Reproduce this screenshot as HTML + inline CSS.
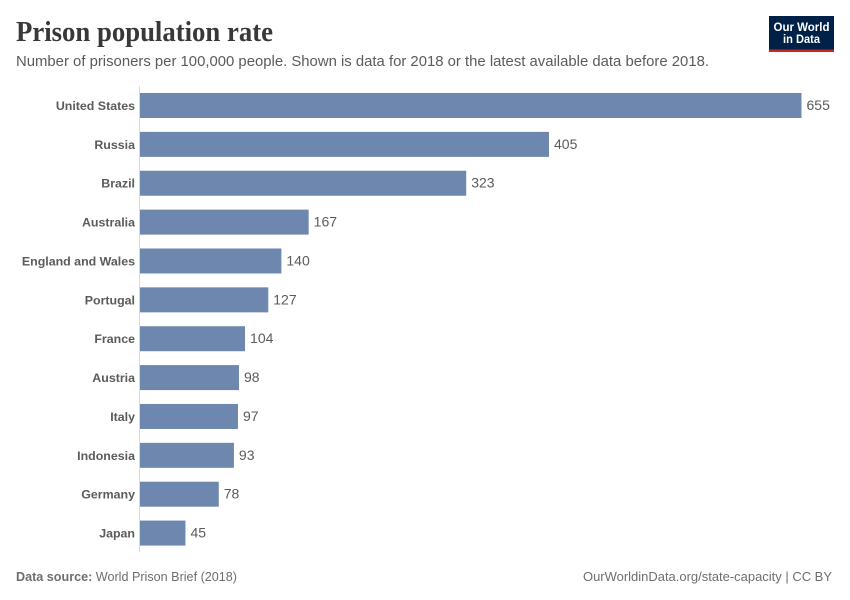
<!DOCTYPE html>
<html lang="en">
<head>
<meta charset="utf-8">
<title>Prison population rate</title>
<style>
html,body{margin:0;padding:0;background:#fff;}
svg{display:block;font-family:"Liberation Sans",sans-serif;}
</style>
</head>
<body>
<svg id="chart" xmlns="http://www.w3.org/2000/svg" width="850" height="600" viewBox="0 0 850 600">
  <rect width="850" height="600" fill="#ffffff"/>
  <text x="16" y="41" font-family="'Liberation Serif',serif" font-weight="700" font-size="28" fill="#383838" textLength="257" lengthAdjust="spacingAndGlyphs">Prison population rate</text>
  <text x="16" y="66" font-size="15" fill="#5b5b5b" textLength="693" lengthAdjust="spacingAndGlyphs">Number of prisoners per 100,000 people. Shown is data for 2018 or the latest available data before 2018.</text>
  <g>
    <rect x="769" y="16" width="65" height="36" fill="#002147"/>
    <rect x="769" y="49.5" width="65" height="2.5" fill="#ce261e"/>
    <text x="801.5" y="31" text-anchor="middle" font-size="12" font-weight="700" fill="#ffffff" textLength="56" lengthAdjust="spacingAndGlyphs">Our World</text>
    <text x="801.5" y="43" text-anchor="middle" font-size="12" font-weight="700" fill="#ffffff" textLength="37" lengthAdjust="spacingAndGlyphs">in Data</text>
  </g>
  <line x1="139.5" y1="86" x2="139.5" y2="552" stroke="#dadada" stroke-width="1"/>
  <g id="bars"></g>
  <text x="16" y="581" font-size="13" fill="#6e6e6e" textLength="221" lengthAdjust="spacingAndGlyphs"><tspan font-weight="700">Data source:</tspan> World Prison Brief (2018)</text>
  <text x="832" y="581" text-anchor="end" font-size="13" fill="#6e6e6e" textLength="249" lengthAdjust="spacingAndGlyphs">OurWorldinData.org/state-capacity | CC BY</text>
</svg>
<script>
const categories = ["United States","Russia","Brazil","Australia","England and Wales","Portugal","France","Austria","Italy","Indonesia","Germany","Japan"];
const values = [655,405,323,167,140,127,104,98,97,93,78,45];
const valueLabels = ["655","405","323","167","140","127","104","98","97","93","78","45"];

const NS = "http://www.w3.org/2000/svg";
const barsGroup = document.getElementById("bars");
const xOrigin = 140;
const xScale = 661.5 / 655;
const firstBarTop = 93;
const rowStep = 38.87;
const barHeight = 25;
function xAxis(v){ return xOrigin + v * xScale; }
function yAxis(i){ return firstBarTop + i * rowStep; }

categories.forEach(function(name, i){
  const y = yAxis(i);
  const mid = y + barHeight / 2;

  const label = document.createElementNS(NS, "text");
  
  
  label.setAttribute("x", xOrigin - 5);
  label.setAttribute("y", mid + 4.5);
  label.setAttribute("text-anchor", "end");
  label.setAttribute("font-size", "12.4");
  label.setAttribute("font-weight", "700");
  label.setAttribute("fill", "#5b5b5b");
  label.textContent = name;
  barsGroup.appendChild(label);

  const bar = document.createElementNS(NS, "rect");
  
  
  bar.setAttribute("x", xOrigin);
  bar.setAttribute("y", y);
  bar.setAttribute("width", xAxis(values[i]) - xOrigin);
  bar.setAttribute("height", barHeight);
  bar.setAttribute("fill", "#6d87ae");
  barsGroup.appendChild(bar);

  const val = document.createElementNS(NS, "text");
  
  
  val.setAttribute("x", xAxis(values[i]) + 5);
  val.setAttribute("y", mid + 4.5);
  val.setAttribute("font-size", "14");
  val.setAttribute("fill", "#5b5b5b");
  val.textContent = valueLabels[i];
  barsGroup.appendChild(val);
});
</script>
</body>
</html>
